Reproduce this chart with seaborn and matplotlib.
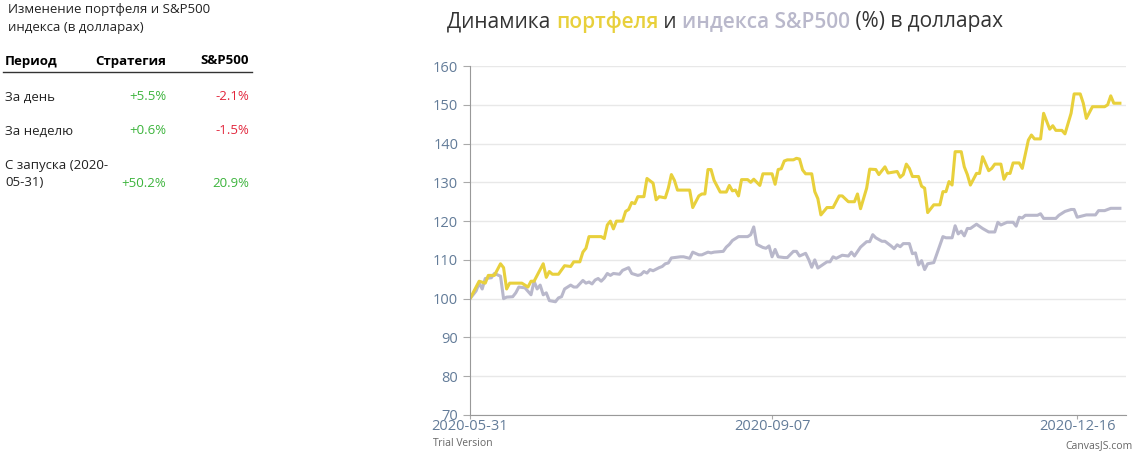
import datetime as dt

import numpy as np
import pandas as pd
import matplotlib as mpl
mpl.use("Agg")
import matplotlib.pyplot as plt
import seaborn as sns

# --- data ---
start_date = dt.date(2020, 5, 31)

port_days = [0, 2, 3, 5, 6, 8, 10, 11, 12, 13, 17, 19, 20, 21, 24, 25, 26, 27, 29, 31, 33, 34,
             36, 37, 38, 39, 43, 44, 45, 46, 47, 48, 50, 51, 52, 53, 54, 55, 57, 58, 60, 61, 62,
             64, 65, 66, 67, 68, 72, 73, 74, 75, 76, 77, 78, 79, 80, 82, 84, 85, 86, 87, 88, 89,
             91, 92, 93, 95, 96, 99, 100, 101, 102, 103, 104, 106, 107, 108, 109, 110, 112, 113,
             114, 115, 117, 119, 121, 122, 124, 126, 127, 128, 130, 131, 133, 134, 136, 137, 140,
             141, 142, 143, 144, 145, 147, 148, 149, 150, 152, 154, 155, 156, 157, 158, 159, 161,
             162, 163, 164, 166, 167, 168, 170, 171, 172, 174, 175, 176, 177, 178, 180, 181, 183,
             184, 185, 187, 188, 190, 191, 192, 194, 195, 197, 198, 200, 201, 202, 204, 208, 209,
             210, 211, 213]
port_vals = [100, 103, 104.5, 104, 106, 106, 109, 108, 102.5, 104, 104, 103, 104.5, 104.5, 109,
             105.5, 107, 106.3, 106.3, 108.5, 108.3, 109.5, 109.5, 112, 113, 116, 116, 115.5, 119,
             120, 118, 120, 120, 122.5, 123, 124.8, 124.5, 126.3, 126.3, 131, 129.8, 125.5, 126.3,
             126, 128.5, 132, 130.5, 128, 128, 123.5, 125, 126.5, 127, 127, 133.3, 133.3, 130.5,
             127.5, 127.5, 129.2, 127.8, 128, 126.5, 130.7, 130.7, 130, 130.8, 129.2, 132.2, 132.2,
             129.5, 133.3, 133.5, 135.5, 135.8, 135.8, 136.2, 136, 133.2, 132.2, 132.2, 127.6,
             125.8, 121.6, 123.5, 123.5, 126.5, 126.5, 125, 125, 127, 123.2, 128.5, 133.4, 133.3,
             132, 134, 132.4, 132.8, 131.3, 132, 134.7, 133.6, 131.5, 131.5, 129, 128.5, 122.2,
             124.2, 124.2, 127.6, 127.6, 130.2, 129.3, 137.9, 137.9, 134, 132, 129.3, 132.3, 132.3,
             136.6, 133, 133.6, 134.7, 134.7, 130.8, 132.3, 132.3, 135, 135, 133.6, 140.9, 142.2,
             141.2, 141.2, 147.8, 143.7, 144.6, 143.4, 143.4, 142.5, 147.8, 152.8, 152.8, 150.4,
             146.5, 149.5, 149.5, 150, 152.3, 150.4, 150.4]

spx_days = [0, 2, 3, 4, 5, 7, 8, 10, 11, 12, 14, 15, 16, 18, 20, 21, 22, 23, 24, 25, 26, 28, 29,
            30, 31, 33, 34, 35, 37, 38, 39, 40, 41, 42, 43, 44, 45, 46, 47, 49, 50, 52, 53, 55, 56,
            57, 58, 59, 60, 62, 63, 64, 65, 66, 69, 70, 72, 73, 75, 76, 78, 79, 80, 83, 84, 85, 86,
            88, 91, 92, 93, 94, 96, 97, 98, 99, 100, 101, 103, 104, 106, 107, 108, 110, 111, 112,
            113, 114, 117, 118, 119, 120, 122, 124, 125, 126, 128, 130, 131, 132, 133, 135, 136,
            138, 139, 140, 141, 142, 144, 145, 146, 147, 148, 149, 150, 152, 155, 156, 158, 159,
            160, 161, 162, 163, 164, 166, 168, 170, 172, 173, 174, 176, 178, 179, 180, 181, 182,
            186, 187, 188, 192, 193, 195, 197, 198, 199, 202, 205, 206, 208, 210, 213]
spx_vals = [100, 102, 104, 102.5, 105.2, 105.4, 106.5, 105.8, 100, 100.4, 100.5, 101.5, 103,
            102.8, 101, 104.5, 102.5, 103.5, 101, 101.5, 99.5, 99.2, 100.2, 100.5, 102.5, 103.5,
            103, 103, 104.7, 104, 104.3, 103.8, 104.8, 105.2, 104.5, 105.3, 106.5, 106, 106.5,
            106.3, 107.3, 108, 106.5, 106, 106.2, 107, 106.6, 107.5, 107.2, 108, 108.3, 109, 109.2,
            110.5, 110.8, 110.8, 110.4, 112, 111.3, 111.3, 112, 111.8, 112, 112.2, 113.3, 114, 115,
            116, 116, 116.5, 118.5, 114, 113.2, 113, 113.6, 110.8, 112.7, 110.8, 110.6, 110.6,
            112.2, 112.2, 111, 111.7, 110.1, 108.1, 110, 107.9, 109.5, 109.5, 110.8, 110.4, 111.2,
            111, 112, 111, 113.3, 114.7, 114.7, 116.5, 115.7, 114.8, 114.8, 113.6, 112.9, 113.9,
            113.4, 114.2, 114.2, 111.6, 111.8, 108.7, 109.8, 107.5, 109, 109.3, 116, 115.7, 115.7,
            118.8, 116.7, 117.4, 116.2, 118.1, 118.1, 119.2, 118.1, 117.2, 117.2, 119.7, 119,
            119.7, 119.7, 118.7, 121, 120.8, 121.5, 121.5, 121.9, 120.7, 120.7, 121.5, 122.5, 123,
            123, 121, 121.6, 121.6, 122.7, 122.7, 123.3, 123.3]

tick_labels = ["2020-05-31", "2020-09-07", "2020-12-16"]
y_ticks = [70, 80, 90, 100, 110, 120, 130, 140, 150, 160]

table_rows = ["За день", "За неделю", "С запуска (2020-\n05-31)"]
strategy_vals = ["+5.5%", "+0.6%", "+50.2%"]
spx_table_vals = ["-2.1%", "-1.5%", "20.9%"]

YELLOW = "#e8d03c"
GREY = "#b9b8cb"
TICK = "#637c99"
GREEN = "#3cb43c"
RED = "#e2263c"

plt.rcParams["font.family"] = "Open Sans"

df = pd.concat([
    pd.DataFrame({"date": [pd.Timestamp(start_date) + pd.Timedelta(days=d) for d in port_days],
                  "value": port_vals, "series": "portfolio"}),
    pd.DataFrame({"date": [pd.Timestamp(start_date) + pd.Timedelta(days=d) for d in spx_days],
                  "value": spx_vals, "series": "spx"}),
])

W, H = 1134, 453
fig = plt.figure(figsize=(W / 100, H / 100), dpi=100)
ax = fig.add_axes([470 / W, 1 - 415 / H, (1126 - 470) / W, (415 - 66) / H])

sns.lineplot(data=df, x="date", y="value", hue="series", hue_order=["spx", "portfolio"],
             palette={"portfolio": YELLOW, "spx": GREY}, linewidth=2.2, legend=False, ax=ax)

x0 = pd.Timestamp(start_date)
ax.set_xlim(x0, x0 + pd.Timedelta(days=215))
ax.set_ylim(70, 160)
ax.set_yticks(y_ticks)
ax.set_xticks([pd.Timestamp(t) for t in tick_labels])
ax.set_xticklabels(tick_labels)
ax.tick_params(axis="y", colors=TICK, labelsize=10.5, length=5, color="#aaaaaa")
ax.tick_params(axis="x", colors=TICK, labelsize=10.5, length=3, color="#aaaaaa", pad=0)
ax.set_xlabel("")
ax.set_ylabel("")
ax.grid(axis="y", color="#e8e8e8", linewidth=1)
ax.set_axisbelow(True)
for s in ["top", "right"]:
    ax.spines[s].set_visible(False)
ax.spines["left"].set_color("#999999")
ax.spines["bottom"].set_color("#999999")

# title in pieces, coloured like the original, chained by measured width
title_parts = [("Динамика ", "#333333"), ("портфеля", YELLOW), (" и ", "#333333"),
               ("индекса S&P500", GREY), (" (%) в долларах", "#333333")]
renderer = fig.canvas.get_renderer()
px = 447
for txt, col in title_parts:
    t = fig.text(px / W, 1 - 22 / H, txt, color=col, fontsize=15, va="center", ha="left",
                 fontweight="semibold" if col != "#333333" else "normal")
    px += t.get_window_extent(renderer).width
    if txt.endswith(" "):
        px += 0

# left table
fig.text(8 / W, 1 - 10 / H, "Изменение портфеля и S&P500", fontsize=9.5, va="center", color="#222222")
fig.text(8 / W, 1 - 28 / H, "индекса (в долларах)", fontsize=9.5, va="center", color="#222222")
fig.text(5 / W, 1 - 61 / H, "Период", fontsize=9.5, fontweight="bold", va="center")
fig.text(166 / W, 1 - 61 / H, "Стратегия", fontsize=9.5, fontweight="bold", va="center", ha="right")
fig.text(249 / W, 1 - 61 / H, "S&P500", fontsize=9.5, fontweight="bold", va="center", ha="right")
fig.add_artist(plt.Line2D([3 / W, 252 / W], [1 - 72 / H, 1 - 72 / H], color="#333333", linewidth=1))
row_y = [97, 131, 174]
for name, sv, pv, ry in zip(table_rows, strategy_vals, spx_table_vals, row_y):
    fig.text(5 / W, 1 - ry / H, name, fontsize=9.5, va="center", linespacing=1.5, color="#222222")
    vy = ry + 9 if "\n" in name else ry
    fig.text(166 / W, 1 - vy / H, sv, fontsize=9.5, va="center", ha="right", color=GREEN)
    col = RED if pv.startswith("-") else GREEN
    fig.text(249 / W, 1 - vy / H, pv, fontsize=9.5, va="center", ha="right", color=col)

fig.text(433 / W, 1 - 444 / H, "Trial Version", fontsize=7.5, color="#666666", va="center")
fig.text(1133 / W, 1 - 446 / H, "CanvasJS.com", fontsize=7.5, color="#666666", va="center", ha="right")

fig.savefig("out.png", dpi=100)
